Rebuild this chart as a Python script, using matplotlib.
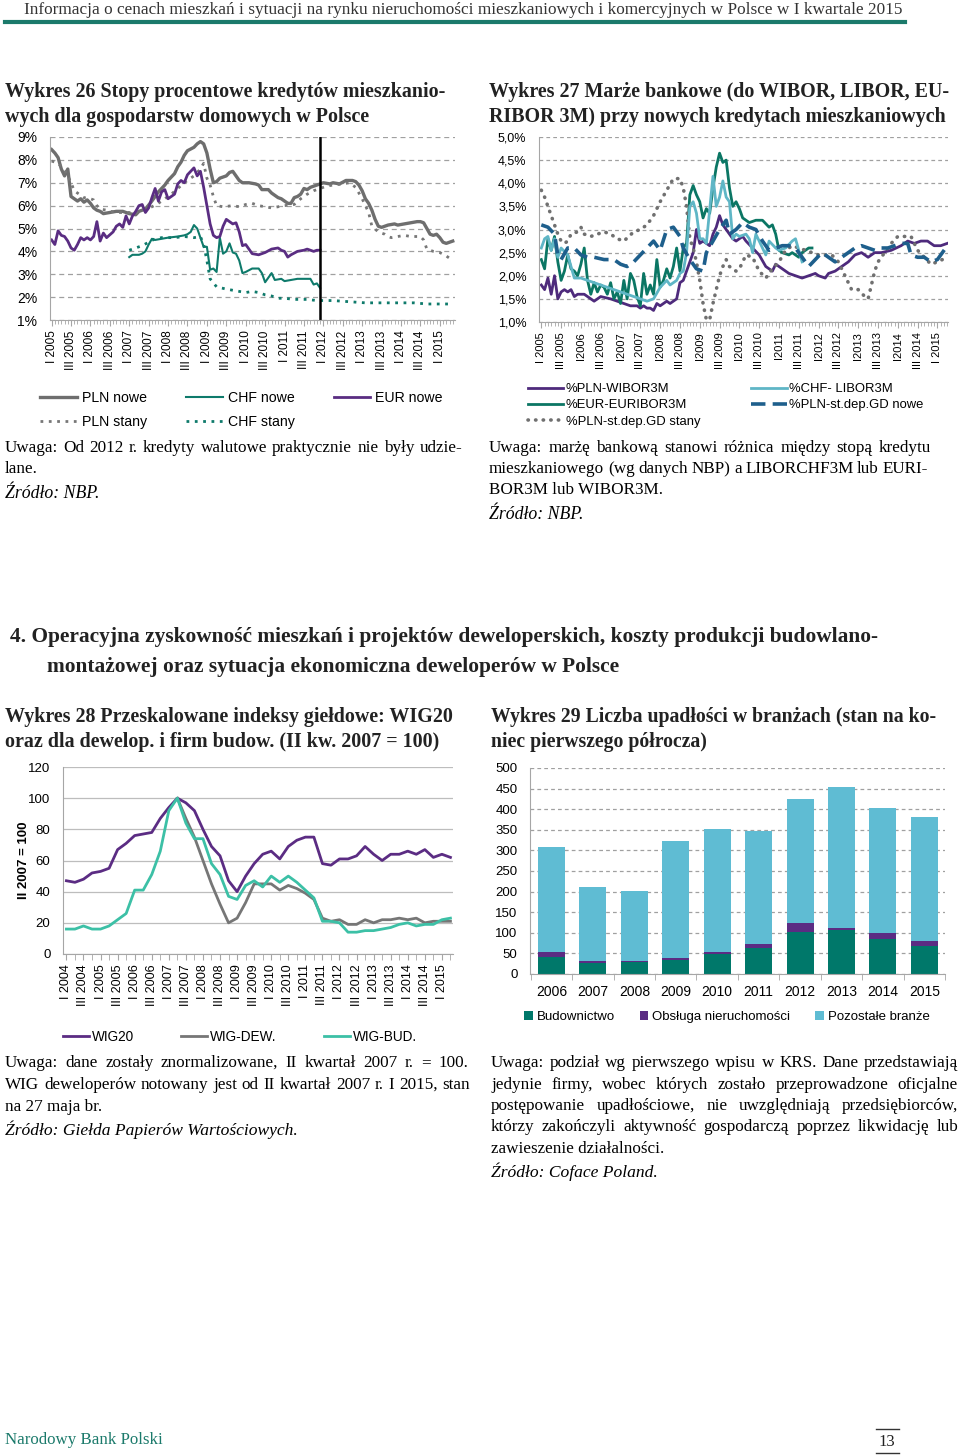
import matplotlib
matplotlib.use('Agg')
import matplotlib.pyplot as plt
from matplotlib.lines import Line2D

plt.rcParams['font.family'] = ['Liberation Sans', 'DejaVu Sans']
SERIF = ['Liberation Serif', 'DejaVu Serif']

# ---------------- Wykres 26: stopy procentowe (miesiace od I 2005) ----------------
pln_nowe = [(0,8.45),(1,8.3),(2,8.1),(3,7.6),(4,7.3),(5,7.6),(6,6.4),(7,6.3),(8,6.2),(9,6.3),(10,6.15),
            (11,6.25),(12,6.1),(13,5.9),(14,5.8),(15,5.75),(16,5.65),(18,5.7),(20,5.75),(22,5.75),(24,5.65),
            (26,5.6),(27,5.75),(29,5.85),(31,6.2),(33,6.6),(35,6.9),(36,7.1),(38,7.4),(39,7.7),(40,7.9),
            (41,8.2),(42,8.4),(44,8.55),(45,8.7),(46,8.8),(47,8.7),(48,8.3),(49,7.6),(50,7.0),(51,7.05),
            (52,7.2),(54,7.3),(55,7.45),(56,7.5),(57,7.3),(58,7.1),(59,7.0),(61,7.0),(63,6.95),(64,6.9),
            (65,6.7),(67,6.7),(68,6.55),(70,6.35),(71,6.3),(72,6.2),(73,6.1),(74,6.1),(75,6.35),(76,6.4),
            (77,6.5),(78,6.75),(79,6.7),(80,6.8),(82,6.9),(84,7.0),(86,6.95),(87,7.0),(89,6.95),(91,7.1),
            (93,7.1),(94,7.05),(95,6.9),(96,6.65),(97,6.3),(98,6.1),(99,5.8),(100,5.4),(101,5.1),(102,5.05),
            (104,5.15),(106,5.2),(107,5.15),(109,5.2),(111,5.25),(113,5.3),(114,5.3),(115,5.25),(116,5.0),
            (117,4.75),(118,4.7),(119,4.75),(120,4.6),(121,4.4),(122,4.35),(123,4.4),(124,4.45)]
pln_stany = [(0,7.95),(2,7.85),(3,7.7),(4,7.55),(5,7.3),(6,7.0),(7,6.65),(9,6.45),(10,6.35),(12,6.3),(13,6.25),
             (14,6.0),(15,5.85),(17,5.8),(18,5.75),(21,5.7),(24,5.7),(25,5.65),(27,5.75),(29,5.8),(31,5.95),
             (33,6.1),(35,6.3),(37,6.5),(39,6.75),(41,7.0),(44,7.3),(46,7.6),(47,7.85),(48,7.2),(49,6.9),
             (50,6.4),(51,6.0),(53,5.95),(56,6.0),(58,5.95),(60,6.05),(62,6.1),(64,6.0),(66,5.95),(68,5.9),
             (70,5.95),(72,6.0),(75,6.05),(77,6.3),(79,6.5),(81,6.65),(83,6.75),(85,6.85),(87,6.9),(90,6.95),
             (92,7.0),(94,6.8),(96,6.3),(98,5.7),(99,5.1),(101,4.85),(103,4.75),(104,4.65),(105,4.6),(107,4.65),
             (109,4.7),(111,4.65),(114,4.65),(115,4.5),(116,4.1),(118,4.0),(120,3.95),(122,3.8),(124,3.6)]
chf_nowe = [(24,3.75),(25,3.85),(27,3.85),(28,3.9),(29,4.0),(30,4.3),(31,4.55),(32,4.5),(34,4.55),(36,4.6),
            (39,4.65),(41,4.7),(42,4.75),(43,4.85),(44,5.15),(45,5.0),(46,4.6),(47,4.2),(48,4.2),(49,3.2),
            (50,3.25),(51,3.1),(52,4.6),(53,3.9),(54,4.0),(55,4.35),(56,3.95),(57,3.9),(58,3.6),(59,3.05),
            (60,3.1),(62,3.25),(64,3.25),(65,3.05),(66,2.65),(67,2.85),(68,3.05),(69,2.75),(71,2.8),(72,2.7),
            (74,2.75),(76,2.8),(80,2.8),(81,2.55),(82,2.6),(83,2.4)]
chf_stany = [(24,4.05),(26,4.15),(28,4.25),(30,4.4),(32,4.55),(34,4.6),(38,4.6),(41,4.65),(44,4.6),(46,4.65),
             (47,4.3),(48,3.6),(49,2.8),(51,2.45),(54,2.35),(56,2.3),(58,2.25),(60,2.2),(62,2.25),(64,2.2),
             (66,2.1),(68,2.05),(70,1.95),(72,1.95),(75,1.9),(79,1.9),(82,1.85),(87,1.85),(92,1.8),(97,1.75),
             (102,1.75),(108,1.75),(112,1.75),(116,1.7),(124,1.7)]
eur_nowe = [(0,4.5),(1,4.3),(2,4.9),(3,4.7),(4,4.65),(5,4.45),(6,4.15),(7,4.05),(8,4.3),(9,4.6),(10,4.5),
            (11,4.6),(12,4.5),(13,4.65),(14,5.3),(15,4.45),(16,4.8),(17,4.6),(19,4.85),(20,5.1),(21,5.2),
            (22,5.05),(23,5.55),(24,5.2),(25,5.55),(26,5.75),(27,6.0),(28,6.05),(29,5.7),(30,5.9),(31,6.35),
            (32,6.75),(33,6.2),(34,6.6),(35,6.7),(36,6.3),(38,6.5),(39,6.95),(40,7.1),(41,7.0),(42,7.35),
            (44,7.65),(45,7.3),(46,7.5),(47,6.8),(48,6.0),(49,5.2),(50,4.7),(51,4.6),(52,4.65),(53,5.1),
            (54,5.4),(55,5.3),(56,5.2),(57,5.25),(58,4.85),(59,4.25),(60,4.3),(61,4.1),(62,3.9),(64,3.85),
            (66,3.95),(68,4.1),(70,4.15),(71,4.05),(72,4.0),(73,3.75),(74,3.85),(76,4.0),(78,4.05),(79,4.1),
            (81,4.0),(82,4.05),(83,4.05)]
c1_ticklabels = ['I 2005', 'III 2005', 'I 2006', 'III 2006', 'I 2007', 'III 2007', 'I 2008', 'III 2008',
                 'I 2009', 'III 2009', 'I 2010', 'III 2010', 'I 2011', 'III 2011', 'I 2012', 'III 2012',
                 'I 2013', 'III 2013', 'I 2014', 'III 2014', 'I 2015']
c1_yticks = [1, 2, 3, 4, 5, 6, 7, 8, 9]
c1_break = 83  # koniec danych walutowych (XII 2011)

# ---------------- Wykres 27: marze bankowe ----------------
wibor = [(0,1.8),(1,1.7),(2,1.95),(3,1.6),(4,2.0),(5,1.5),(6,1.65),(7,1.7),(8,1.65),(9,1.7),(10,1.55),(11,1.6),
         (13,1.6),(15,1.5),(16,1.45),(18,1.55),(21,1.5),(23,1.45),(25,1.4),(27,1.35),(29,1.35),(30,1.3),(31,1.35),
         (32,1.3),(33,1.3),(34,1.25),(35,1.4),(36,1.35),(38,1.45),(39,1.4),(41,1.5),(42,1.85),(43,1.9),(44,2.1),
         (46,2.5),(47,3.0),(48,2.7),(49,2.75),(51,2.65),(52,2.9),(53,3.05),(54,3.3),(55,3.1),(56,3.0),(58,2.8),
         (59,2.75),(61,2.85),(62,2.75),(64,2.6),(66,2.45),(68,2.2),(70,2.1),(71,2.25),(73,2.15),(75,2.05),
         (77,2.0),(79,1.95),(81,2.0),(83,2.05),(84,2.0),(86,1.95),(87,2.05),(89,2.1),(91,2.2),(93,2.3),(95,2.45),
         (97,2.5),(99,2.4),(101,2.5),(103,2.5),(106,2.55),(109,2.65),(111,2.75),(113,2.7),(115,2.75),(117,2.75),
         (119,2.65),(121,2.65),(123,2.7)]
euribor = [(0,2.35),(1,2.15),(2,2.8),(3,2.55),(4,2.85),(5,2.3),(6,1.9),(7,2.1),(8,2.45),(9,2.15),(10,2.1),
           (11,2.0),(12,2.25),(13,2.6),(14,1.9),(15,1.6),(16,1.85),(17,1.65),(18,1.8),(19,1.75),(20,1.6),
           (21,1.85),(22,1.5),(23,1.65),(24,1.4),(25,1.9),(26,1.5),(27,2.05),(28,1.9),(29,1.55),(30,1.35),
           (31,2.05),(32,1.6),(33,1.8),(34,1.6),(35,2.35),(36,1.75),(37,1.9),(38,2.15),(39,1.95),(40,2.2),
           (41,2.6),(42,2.1),(43,2.6),(44,2.7),(45,3.75),(46,3.95),(47,3.75),(48,3.6),(49,3.25),(50,3.45),
           (51,3.35),(52,3.9),(53,4.35),(54,4.65),(55,4.45),(56,4.5),(57,3.9),(58,3.5),(59,3.6),(60,3.45),
           (61,3.25),(63,3.15),(65,3.2),(67,3.2),(69,3.05),(70,3.1),(71,2.9),(72,2.55),(73,2.5),(75,2.45),
           (76,2.5),(78,2.4),(79,2.5),(81,2.6),(82,2.6)]
chf_libor = [(0,2.6),(1,2.8),(2,2.85),(3,2.55),(4,2.8),(5,2.4),(6,2.6),(8,2.45),(9,2.2),(10,1.95),(12,1.95),
             (14,1.9),(16,1.85),(18,1.8),(20,1.75),(22,1.7),(24,1.65),(26,1.6),(28,1.55),(30,1.5),(32,1.45),
             (34,1.5),(36,1.75),(38,1.9),(39,1.8),(41,1.9),(42,2.05),(43,2.1),(44,2.5),(45,3.5),(46,3.6),
             (47,3.35),(48,2.8),(49,2.8),(50,2.7),(52,4.15),(53,3.5),(54,3.7),(55,4.05),(56,3.7),(57,3.6),
             (58,2.8),(59,2.9),(60,2.85),(62,2.9),(63,2.8),(64,2.5),(65,2.9),(67,2.6),(68,2.45),(69,2.75),
             (71,2.6),(72,2.55),(74,2.6),(76,2.75),(77,2.8),(78,2.55),(79,2.3)]
dep_nowe = [(0,3.1),(2,3.05),(4,2.9),(5,2.45),(6,2.35),(8,2.6),(10,2.6),(12,2.45),(14,2.4),(16,2.4),(19,2.35),
            (22,2.35),(24,2.25),(26,2.2),(28,2.3),(30,2.45),(32,2.6),(34,2.75),(36,2.55),(38,3.0),(40,3.05),
            (42,2.85),(43,2.6),(45,2.35),(47,2.15),(49,2.1),(50,2.5),(52,2.75),(54,3.0),(56,3.2),(57,2.9),
            (59,3.0),(61,3.15),(63,3.05),(65,3.0),(67,2.75),(69,2.55),(71,2.6),(73,2.65),(75,2.65),(77,2.6),
            (79,2.4),(81,2.2),(83,2.35),(85,2.5),(87,2.4),(89,2.3),(91,2.4),(93,2.5),(95,2.6),(97,2.65),
            (99,2.6),(101,2.55),(103,2.6),(105,2.6),(107,2.65),(109,2.7),(111,2.7),(112,2.45),(114,2.4),
            (116,2.4),(118,2.3),(120,2.35),(123,2.65)]
dep_stany = [(0,3.85),(1,3.7),(2,3.5),(3,3.3),(4,3.1),(5,2.9),(6,2.75),(7,2.7),(8,2.75),(9,2.9),(11,2.95),
             (12,3.05),(13,2.9),(15,2.85),(17,2.9),(19,2.95),(21,2.9),(23,2.8),(25,2.75),(28,2.95),(30,3.0),
             (32,3.1),(34,3.3),(35,3.45),(36,3.6),(38,3.85),(40,4.1),(42,4.1),(43,3.9),(44,3.5),(45,2.8),
             (46,2.6),(47,2.3),(48,1.9),(49,1.4),(50,1.05),(51,1.05),(52,1.4),(53,1.7),(54,2.0),(55,2.2),
             (56,2.35),(57,2.2),(58,2.15),(59,2.1),(60,2.15),(62,2.45),(64,2.4),(66,2.1),(68,1.95),(70,2.15),
             (72,2.3),(74,2.55),(76,2.65),(78,2.6),(80,2.55),(82,2.5),(84,2.45),(86,2.45),(88,2.45),(90,2.3),
             (92,2.0),(94,1.7),(96,1.7),(98,1.55),(99,1.5),(100,1.8),(101,2.1),(102,2.3),(104,2.5),(106,2.7),
             (108,2.85),(110,2.85),(112,2.85),(114,2.55),(116,2.4),(118,2.25),(120,2.3),(123,2.4)]
c2_ticklabels = ['I 2005', 'III 2005', 'I2006', 'III 2006', 'I2007', 'III 2007', 'I2008', 'III 2008',
                 'I2009', 'III 2009', 'I2010', 'III 2010', 'I2011', 'III 2011', 'I2012', 'III 2012',
                 'I2013', 'III 2013', 'I2014', 'III 2014', 'I 2015']
c2_yticks = [1.0, 1.5, 2.0, 2.5, 3.0, 3.5, 4.0, 4.5, 5.0]

# ---------------- Wykres 28: indeksy gieldowe (kwartaly od I 2004) ----------------
wig20 = [47, 46, 48, 52, 53, 55, 67, 71, 76, 77, 78, 87, 94, 100, 97, 92, 80, 69, 63, 47, 40, 50, 58,
         64, 66, 61, 69, 73, 75, 75, 58, 57, 61, 61, 63, 69, 64, 60, 64, 64, 66, 64, 67, 62, 64, 62]
wig_dew_start = 13
wig_dew = [100, 87, 75, 60, 45, 32, 20, 23, 33, 45, 45, 45, 41, 44, 42, 39, 35, 23, 21, 22, 19, 19,
           22, 20, 22, 22, 23, 22, 23, 20, 21, 21, 21]
wig_bud = [16, 16, 18, 16, 16, 18, 22, 26, 41, 41, 51, 66, 92, 100, 84, 74, 74, 58, 51, 37, 35, 44, 47,
           43, 50, 46, 50, 46, 41, 36, 21, 21, 20, 14, 14, 15, 15, 16, 17, 19, 20, 18, 19, 19, 22, 23]
c3_ticklabels = ['I 2004', 'III 2004', 'I 2005', 'III 2005', 'I 2006', 'III 2006', 'I 2007', 'III 2007',
                 'I 2008', 'III 2008', 'I 2009', 'III 2009', 'I 2010', 'III 2010', 'I 2011', 'III 2011',
                 'I 2012', 'III 2012', 'I 2013', 'III 2013', 'I 2014', 'III 2014', 'I 2015']

# ---------------- Wykres 29: upadlosci ----------------
years = ['2006', '2007', '2008', '2009', '2010', '2011', '2012', '2013', '2014', '2015']
budownictwo = [42, 27, 30, 33, 48, 62, 103, 107, 85, 68]
obsluga = [12, 5, 1, 7, 6, 12, 20, 5, 14, 11]
pozostale = [255, 178, 171, 283, 298, 274, 301, 343, 303, 303]

# ---------------- layout ----------------
W, H = 960, 1456
fig = plt.figure(figsize=(W / 100, H / 100), dpi=100)


def rect(l, t, r, b):
    return [l / W, 1 - b / H, (r - l) / W, (b - t) / H]


def ftext(x, y, s, size=12, **kw):
    kw.setdefault('family', SERIF)
    kw.setdefault('va', 'center')
    fig.text(x / W, 1 - y / H, s, fontsize=size, **kw)


def justified(x0, x1, y, line, size=12, **kw):
    words = line.split(' ')
    r = fig.canvas.get_renderer()
    arts, widths = [], []
    for w in words:
        t = fig.text(0, 0, w, fontsize=size, family=SERIF, va='center', **kw)
        arts.append(t)
        widths.append(t.get_window_extent(r).width)
    gap = (x1 - x0 - sum(widths)) / max(len(words) - 1, 1)
    x = x0
    for t, w in zip(arts, widths):
        t.set_position((x / W, 1 - y / H))
        x += w + gap


def style_axes(ax, grid_ls, grid_color='#a0a0a0'):
    for s in ['top', 'right']:
        ax.spines[s].set_visible(False)
    for s in ['left', 'bottom']:
        ax.spines[s].set_color('#a6a6a6')
    ax.yaxis.grid(True, ls=grid_ls, color=grid_color, lw=0.9)
    ax.set_axisbelow(True)
    ax.tick_params(axis='y', length=0, pad=9)
    ax.tick_params(axis='x', which='both', color='#a6a6a6')


def xy(pairs):
    return [p[0] for p in pairs], [p[1] for p in pairs]


TITLE = dict(size=14.4, weight='bold', color='#222222')

# header
ftext(24, 10, 'Informacja o cenach mieszkań i sytuacji na rynku nieruchomości mieszkaniowych i komercyjnych w Polsce w I kwartale 2015',
      size=12.4, color='#333333')
fig.add_artist(Line2D([5 / W, 905 / W], [1 - 22 / H] * 2, color='#1b7a6b', lw=3))

# titles
ftext(5, 92, 'Wykres 26 Stopy procentowe kredytów mieszkanio-', **TITLE)
ftext(5, 117, 'wych dla gospodarstw domowych w Polsce', **TITLE)
ftext(489, 92, 'Wykres 27 Marże bankowe (do WIBOR, LIBOR, EU-', **TITLE)
ftext(489, 117, 'RIBOR 3M) przy nowych kredytach mieszkaniowych', **TITLE)

# ---- chart 26
ax1 = fig.add_axes(rect(50, 137, 455, 320))
style_axes(ax1, (0, (4, 3)))
ax1.plot(*xy(pln_nowe), color='#6e6e6e', lw=2.4, label='PLN nowe')
ax1.plot(*xy(pln_stany), color='#777777', lw=2, ls=(0, (1, 2)), label='PLN stany')
ax1.plot(*xy(chf_nowe), color='#0e7a6b', lw=1.5, label='CHF nowe')
ax1.plot(*xy(chf_stany), color='#0e7a6b', lw=2, ls=(0, (1, 2)), label='CHF stany')
ax1.plot(*xy(eur_nowe), color='#5a2d82', lw=2, label='EUR nowe')
ax1.axvline(c1_break, color='black', lw=1.8)
ax1.set_xlim(-0.5, 124.7)
ax1.set_ylim(1, 9)
ax1.set_yticks(c1_yticks)
ax1.set_yticklabels([f'{v}%' for v in c1_yticks], fontsize=10)
ax1.set_xticks(range(0, 6 * len(c1_ticklabels), 6))
ax1.set_xticklabels(c1_ticklabels, rotation=90, fontsize=8.5)
ax1.set_xticks(range(0, 125), minor=True)
ax1.tick_params(axis='x', which='major', length=4)
ax1.tick_params(axis='x', which='minor', length=3)
ax1.legend(ncol=3, loc='upper left',
           bbox_to_anchor=(40 / W, 1 - 391 / H), bbox_transform=fig.transFigure, frameon=False,
           fontsize=10.2, handlelength=2.6, handletextpad=0.35, columnspacing=2.75, labelspacing=0.7,
           borderpad=0, borderaxespad=0)

justified(5, 462, 448, 'Uwaga: Od 2012 r. kredyty walutowe praktycznie nie były udzie-', size=12.3)
ftext(5, 469, 'lane.', size=12.3)
ftext(5, 493, 'Źródło: NBP.', size=12.8, style='italic')

# ---- chart 27
ax2 = fig.add_axes(rect(539, 137, 948, 322))
style_axes(ax2, (0, (3, 2.5)))
ax2.plot(*xy(wibor), color='#4e2a7c', lw=2, label='%PLN-WIBOR3M')
ax2.plot(*xy(euribor), color='#0b7664', lw=2, label='%EUR-EURIBOR3M')
ax2.plot(*xy(dep_stany), color='#707070', lw=2.6, ls=(0, (0.1, 2)), dash_capstyle='round',
         label='%PLN-st.dep.GD stany')
ax2.plot(*xy(chf_libor), color='#5fb6c6', lw=2, label='%CHF- LIBOR3M')
ax2.plot(*xy(dep_nowe), color='#1e5f8c', lw=2.6, ls=(0, (4, 2)), label='%PLN-st.dep.GD nowe')
ax2.set_xlim(-0.7, 123.2)
ax2.set_ylim(1, 5)
ax2.set_yticks(c2_yticks)
ax2.set_yticklabels([f'{v:.1f}%'.replace('.', ',') for v in c2_yticks], fontsize=9)
ax2.set_xticks(range(0, 6 * len(c2_ticklabels), 6))
ax2.set_xticklabels(c2_ticklabels, rotation=90, fontsize=8)
ax2.set_xticks(range(0, 124), minor=True)
ax2.tick_params(axis='x', which='major', length=4)
ax2.tick_params(axis='x', which='minor', length=3)
ax2.legend(ncol=2, loc='upper left', bbox_to_anchor=(528 / W, 1 - 383 / H),
           bbox_transform=fig.transFigure, frameon=False, fontsize=9.4, handlelength=2.7,
           handletextpad=0.2, columnspacing=3.9, labelspacing=0.32, borderpad=0, borderaxespad=0)

justified(489, 931, 448, 'Uwaga: marżę bankową stanowi różnica między stopą kredytu', size=12.3)
justified(489, 928, 469, 'mieszkaniowego (wg danych NBP) a LIBORCHF3M lub EURI-', size=12.3)
ftext(489, 490, 'BOR3M lub WIBOR3M.', size=12.3)
ftext(489, 514, 'Źródło: NBP.', size=12.8, style='italic')

# ---- section heading
ftext(10, 637, '4. Operacyjna zyskowność mieszkań i projektów deweloperskich, koszty produkcji budowlano-',
      size=15.4, weight='bold', color='#222222')
ftext(47, 667, 'montażowej oraz sytuacja ekonomiczna deweloperów w Polsce', size=15.4, weight='bold',
      color='#222222')

ftext(5, 717, 'Wykres 28 Przeskalowane indeksy giełdowe: WIG20', **TITLE)
ftext(5, 742, 'oraz dla dewelop. i firm budow. (II kw. 2007 = 100)', **TITLE)
ftext(491, 717, 'Wykres 29 Liczba upadłości w branżach (stan na ko-', size=14.2, weight='bold', color='#222222')
ftext(491, 742, 'niec pierwszego półrocza)', size=14.2, weight='bold', color='#222222')

# ---- chart 28
ax3 = fig.add_axes(rect(63, 767, 453, 954))
style_axes(ax3, '-', grid_color='#bdbdbd')
q = list(range(len(wig20)))
ax3.plot(q, wig20, color='#5b2c83', lw=2, label='WIG20')
ax3.plot(list(range(wig_dew_start, wig_dew_start + len(wig_dew))), wig_dew, color='#767676', lw=2,
         label='WIG-DEW.')
ax3.plot(q, wig_bud, color='#3cc0a6', lw=2, label='WIG-BUD.')
ax3.set_xlim(-0.4, 45.3)
ax3.set_ylim(0, 120)
ax3.set_yticks(range(0, 121, 20))
ax3.tick_params(axis='y', labelsize=9.5)
ax3.set_xticks(range(0, 2 * len(c3_ticklabels), 2))
ax3.set_xticklabels(c3_ticklabels, rotation=90, fontsize=9)
ax3.set_xticks(range(0, 46), minor=True)
ax3.tick_params(axis='x', which='both', length=4)
ax3.set_ylabel('II 2007 = 100', fontsize=9.5, weight='bold')
ax3.yaxis.set_label_coords(-0.085, 0.5)
ax3.legend(ncol=3, loc='upper left', bbox_to_anchor=(63 / W, 1 - 1030 / H),
           bbox_transform=fig.transFigure, frameon=False, fontsize=9.8, handlelength=1.9,
           handletextpad=0.2, columnspacing=3.5, borderpad=0, borderaxespad=0)

justified(5, 468, 1063, 'Uwaga: dane zostały znormalizowane, II kwartał 2007 r. = 100.', size=12.3)
justified(5, 470, 1085, 'WIG deweloperów notowany jest od II kwartał 2007 r. I 2015, stan', size=12.3)
ftext(5, 1107, 'na 27 maja br.', size=12.3)
ftext(5, 1130, 'Źródło: Giełda Papierów Wartościowych.', size=12.6, style='italic')

# ---- chart 29
ax4 = fig.add_axes(rect(530, 768, 945, 974))
style_axes(ax4, (0, (3, 2.5)))
x4 = list(range(len(years)))
bottom2 = [a + b for a, b in zip(budownictwo, obsluga)]
ax4.bar(x4, budownictwo, width=0.65, color='#00786a', label='Budownictwo')
ax4.bar(x4, obsluga, width=0.65, bottom=budownictwo, color='#5b2c83', label='Obsługa nieruchomości')
ax4.bar(x4, pozostale, width=0.65, bottom=bottom2, color='#5fbcd3', label='Pozostałe branże')
ax4.set_xlim(-0.52, 9.5)
ax4.set_ylim(0, 500)
ax4.set_yticks(range(0, 501, 50))
ax4.tick_params(axis='y', labelsize=9.5)
ax4.set_xticks(x4)
ax4.set_xticklabels(years, fontsize=10)
ax4.set_xticks([i - 0.5 for i in range(len(years) + 1)], minor=True)
ax4.tick_params(axis='x', which='major', length=0, pad=8)
ax4.tick_params(axis='x', which='minor', length=4)
ax4.legend(ncol=3, loc='upper left', bbox_to_anchor=(524 / W, 1 - 1011 / H),
           bbox_transform=fig.transFigure, frameon=False, fontsize=9.5, handlelength=0.65,
           handleheight=0.65, handletextpad=0.3, columnspacing=1.9, borderpad=0, borderaxespad=0)

justified(491, 958, 1063, 'Uwaga: podział wg pierwszego wpisu w KRS. Dane przedstawiają', size=12.3)
justified(491, 958, 1085, 'jedynie firmy, wobec których zostało przeprowadzone oficjalne', size=12.3)
justified(491, 958, 1106, 'postępowanie upadłościowe, nie uwzględniają przedsiębiorców,', size=12.3)
justified(491, 958, 1127, 'którzy zakończyli aktywność gospodarczą poprzez likwidację lub', size=12.3)
ftext(491, 1149, 'zawieszenie działalności.', size=12.3)
ftext(491, 1172, 'Źródło: Coface Poland.', size=12.6, style='italic')

# footer
ftext(5, 1440, 'Narodowy Bank Polski', size=12.2, color='#1b7a6b')
ftext(887, 1442, '13', size=12, ha='center', color='#222222')
fig.add_artist(Line2D([876 / W, 899 / W], [1 - 1429 / H] * 2, color='#333333', lw=1))
fig.add_artist(Line2D([876 / W, 899 / W], [1 - 1453 / H] * 2, color='#333333', lw=1))

fig.savefig('out.png', dpi=100)
